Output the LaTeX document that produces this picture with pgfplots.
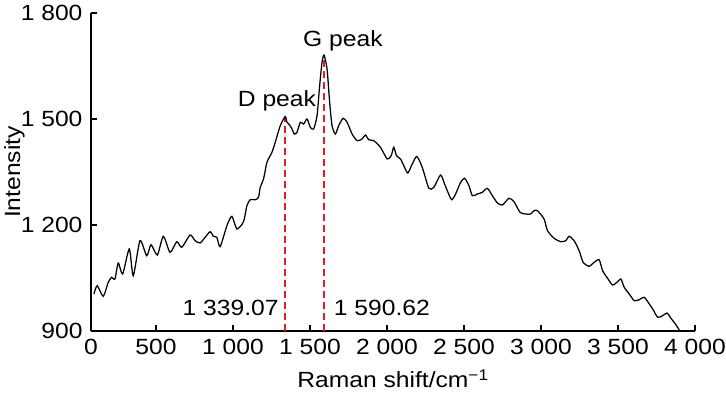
\documentclass[border=0pt]{standalone}
\usepackage{fontspec}
\setmainfont{Liberation Sans}[FakeStretch=1.12]
\usepackage{pgfplots}
\pgfplotsset{compat=1.18}
\definecolor{dashred}{RGB}{228,30,38}
\begin{document}
\begin{tikzpicture}[font=\fontsize{22}{26}\selectfont]
\begin{axis}[
  name=ax, at={(0,0)}, anchor=south west,
  scale only axis, width=604pt, height=318pt,
  xmin=78, xmax=4000, ymin=900, ymax=1800,
  axis x line=bottom, axis y line=left,
  axis line style={-, line width=1.1pt},
  every outer x axis line/.append style={-},
  every outer y axis line/.append style={-},
  tick align=inside, major tick length=6pt,
  tick style={line width=1.1pt, black},
  xtick={78,500,1000,1500,2000,2500,3000,3500,4000},
  xticklabels={0,500,1 000,1 500,2 000,2 500,3 000,3 500,4 000},
  ytick={900,1200,1500,1800},
  yticklabels={900,1 200,1 500,1 800},
  /pgf/number format/assume math mode=true,
  yticklabel style={xshift=-5pt},
  xticklabel style={yshift=-5pt},
  xlabel={Raman shift/cm\textsuperscript{−1}},
  ylabel={Intensity},
  xlabel style={at={(rel axis cs:0.5,-0.1792)}, anchor=base},
  ylabel style={at={(rel axis cs:-0.1175,0.5)}, anchor=base},
  clip=false,
]
\addplot[dashred, line width=1.5pt, dash pattern=on 7pt off 4pt] coordinates {(1339.07,900) (1339.07,1506)};
\addplot[dashred, line width=1.5pt, dash pattern=on 7pt off 4pt] coordinates {(1590.62,900) (1590.62,1680)};
\addplot[black, line width=1.25pt, smooth, tension=0.4] coordinates {
(96.9,1004.7) (118.4,1028.2) (157.4,998.2) (190.0,1037.8) (212.1,1052.0) (233.6,1047.2)
(255.0,1092.4) (283.6,1061.3) (326.6,1132.1) (352.6,1056.5) (396.2,1155.6) (439.8,1113.1)
(467.8,1144.2) (508.7,1115.1) (547.8,1168.0) (591.3,1122.7) (635.0,1152.7) (667.5,1136.9)
(721.5,1171.7) (754.0,1155.6) (786.6,1149.1) (819.1,1165.2) (851.6,1181.0) (873.1,1168.0)
(895.2,1165.2) (916.7,1138.6) (960.3,1198.0) (992.8,1224.6) (1025.3,1188.7) (1068.3,1209.3)
(1090.4,1254.6) (1111.8,1271.6) (1144.4,1271.6) (1165.8,1278.4) (1176.9,1306.7) (1198.4,1330.2)
(1220.5,1377.4) (1253.0,1405.7) (1274.5,1434.1) (1307.0,1481.0) (1339.0,1507.0) (1350.6,1490.7)
(1367.5,1483.0) (1383.1,1471.7) (1398.1,1457.5) (1415.7,1462.4) (1437.1,1490.7) (1458.6,1485.9)
(1480.7,1500.0) (1502.2,1476.5) (1523.6,1471.7) (1545.8,1509.3) (1562.7,1594.2) (1578.3,1660.5)
(1591.0,1681.0) (1610.8,1641.5) (1627.7,1547.3) (1643.3,1481.0) (1664.8,1457.5) (1686.3,1481.0)
(1714.9,1502.0) (1740.9,1490.7) (1773.4,1457.5) (1806.0,1438.6) (1838.5,1443.4) (1860.0,1454.7)
(1881.5,1441.4) (1914.0,1438.6) (1957.6,1419.9) (2001.2,1386.8) (2027.2,1396.1) (2044.1,1419.9)
(2061.7,1396.1) (2087.7,1386.8) (2109.2,1367.8) (2135.2,1347.2) (2163.8,1372.6) (2193.7,1393.9)
(2228.9,1363.3) (2271.8,1303.9) (2304.4,1306.7) (2347.9,1341.5) (2374.0,1316.0) (2391.5,1297.1)
(2419.5,1271.6) (2445.5,1287.7) (2478.1,1320.8) (2504.1,1332.2) (2532.1,1311.2) (2554.2,1282.9)
(2586.7,1287.7) (2619.2,1292.5) (2651.8,1303.9) (2684.3,1282.9) (2716.8,1262.3) (2749.3,1256.6)
(2792.3,1275.6) (2824.8,1265.9) (2863.9,1235.9) (2900.9,1231.1) (2933.4,1231.1) (2954.9,1240.5)
(2977.0,1240.5) (3019.9,1217.0) (3042.1,1183.9) (3085.0,1162.4) (3128.6,1152.7) (3161.1,1155.6)
(3182.6,1168.0) (3215.1,1155.6) (3247.7,1127.3) (3273.7,1094.4) (3312.7,1083.1) (3345.2,1094.4)
(3377.8,1101.8) (3399.9,1070.7) (3432.4,1049.1) (3464.9,1030.2) (3497.5,1039.5) (3518.9,1047.2)
(3540.4,1023.7) (3572.9,1004.7) (3605.5,985.8) (3638.0,988.6) (3670.5,995.4) (3703.1,976.4)
(3725.2,962.3) (3757.7,938.8) (3790.2,943.3) (3818.2,950.9) (3844.2,935.9) (3876.8,917.0)
(3898.2,902.8)
};
\node[anchor=base] at (axis cs:1285.5,1534) {D peak};
\node[anchor=base] at (axis cs:1713.6,1704) {G peak};
\node[anchor=base] at (axis cs:985,945) {1 339.07};
\node[anchor=base] at (axis cs:1967,945) {1 590.62};
\end{axis}
\pgfresetboundingbox
\path ([xshift=-91pt,yshift=-64pt]ax.south west) rectangle ([xshift=31pt,yshift=13pt]ax.north east);
\end{tikzpicture}
\end{document}
